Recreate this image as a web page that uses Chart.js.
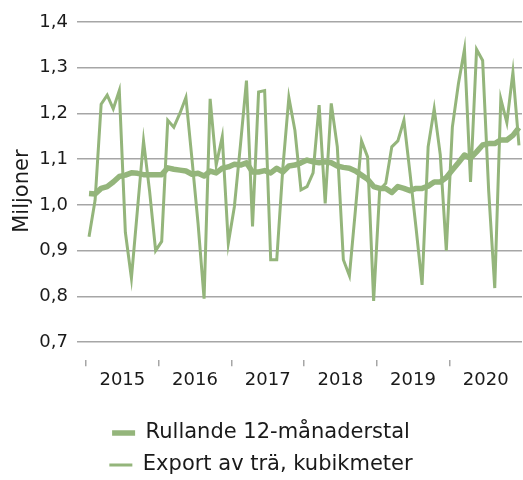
<!DOCTYPE html>
<html lang="sv">
<head>
    <meta charset="UTF-8">
    <title>Export av trä</title>
    <script src="https://cdn.jsdelivr.net/npm/chart.js"></script>
    <style>
        body { margin: 0; background: #fff; }
        #woodChartContainer { width: 523px; height: 480px; }
    </style>
</head>
<body>
    <div id="woodChartContainer">
        <canvas id="woodChart" width="523" height="480"></canvas>
    </div>

    <script>
        // monthly data, jan 2015 - dec 2020
        const years = ['2015', '2016', '2017', '2018', '2019', '2020'];
        const months = ['01', '02', '03', '04', '05', '06', '07', '08', '09', '10', '11', '12'];
        const yTicks = [0.7, 0.8, 0.9, 1.0, 1.1, 1.2, 1.3, 1.4];

        // Rullande 12-månaderstal (miljoner kubikmeter)
        const rolling = [
            1.025, 1.024, 1.036, 1.040, 1.050, 1.062, 1.065, 1.070, 1.069, 1.066, 1.066, 1.066,
            1.066, 1.081, 1.078, 1.076, 1.074, 1.067, 1.069, 1.063, 1.074, 1.070, 1.080, 1.083,
            1.089, 1.087, 1.092, 1.072, 1.072, 1.075, 1.070, 1.080, 1.072, 1.085, 1.087, 1.092,
            1.098, 1.094, 1.092, 1.094, 1.092, 1.085, 1.082, 1.080, 1.074, 1.065, 1.056, 1.040,
            1.036, 1.036, 1.027, 1.040, 1.036, 1.031, 1.036, 1.036, 1.041, 1.050, 1.050, 1.060,
            1.076, 1.092, 1.109, 1.102, 1.116, 1.131, 1.134, 1.134, 1.142, 1.142, 1.152, 1.169
        ];

        // Export av trä, kubikmeter (miljoner)
        const exportWood = [
            0.930, 1.010, 1.220, 1.240, 1.210, 1.250, 0.940, 0.840, 0.990, 1.140, 1.030, 0.900,
            0.920, 1.185, 1.170, 1.200, 1.235, 1.100, 0.960, 0.795, 1.232, 1.087, 1.149, 0.916,
            0.996, 1.130, 1.272, 0.953, 1.247, 1.250, 0.880, 0.880, 1.080, 1.235, 1.163, 1.033,
            1.040, 1.070, 1.218, 1.003, 1.222, 1.127, 0.880, 0.845, 0.990, 1.140, 1.105, 0.790,
            1.033, 1.047, 1.127, 1.140, 1.185, 1.070, 0.950, 0.825, 1.127, 1.210, 1.110, 0.900,
            1.170, 1.265, 1.340, 1.050, 1.340, 1.316, 1.030, 0.818, 1.232, 1.180, 1.290, 1.130
        ];

        const labels = years.flatMap(y => months.map(m => y + '-' + m));
        const green = '#94b57b';
        const gridGray = '#a6a6a6';

        Chart.defaults.font.family = "'DejaVu Sans', sans-serif";
        Chart.defaults.color = '#1a1a1a';

        const ctx = document.getElementById('woodChart').getContext('2d');
        const woodChart = new Chart(ctx, {
            type: 'line',
            data: {
                labels: labels,
                datasets: [{
                    label: 'Rullande 12-månaderstal',
                    data: rolling,
                    borderColor: green,
                    backgroundColor: green,
                    borderWidth: 5.5,
                    pointRadius: 0,
                    borderJoinStyle: 'round'
                }, {
                    label: 'Export av trä, kubikmeter',
                    data: exportWood,
                    borderColor: green,
                    backgroundColor: green,
                    borderWidth: 3,
                    pointRadius: 0
                }]
            },
            options: {
                responsive: false,
                animation: false,
                layout: { padding: { top: 22, right: 1, bottom: -5.5, left: 0 } },
                plugins: {
                    tooltip: { enabled: false },
                    legend: {
                        position: 'bottom',
                        labels: {
                            usePointStyle: true,
                            pointStyle: 'line',
                            pointStyleWidth: 23,
                            padding: 11,
                            font: { size: 21 }
                        }
                    }
                },
                scales: {
                    x: {
                        offset: true,
                        border: { display: false },
                        grid: {
                            offset: true,
                            drawOnChartArea: false,
                            tickLength: 6,
                            lineWidth: 1.5,
                            color: c => (c.index % 12 === 0 ? gridGray : 'rgba(0,0,0,0)')
                        },
                        ticks: {
                            autoSkip: false,
                            maxRotation: 0,
                            padding: 3,
                            labelOffset: -3,
                            font: { size: 18 },
                            callback: (val, i) => (i % 12 === 6 ? years[Math.floor(i / 12)] : '')
                        },
                        afterFit: s => { s.height = 51.2; }
                    },
                    y: {
                        min: 0.66,
                        max: 1.4,
                        border: { display: false },
                        afterBuildTicks: s => { s.ticks = yTicks.map(v => ({ value: v })); },
                        afterFit: s => { s.width = 86; },
                        grid: {
                            color: gridGray,
                            lineWidth: 1.5,
                            tickLength: 9
                        },
                        ticks: {
                            padding: 9,
                            font: { size: 18 },
                            callback: v => v.toFixed(1).replace('.', ',')
                        },
                        title: {
                            display: true,
                            text: 'Miljoner',
                            font: { size: 21 },
                            padding: { top: 10, bottom: 0 }
                        }
                    }
                }
            }
        });
    </script>
</body>
</html>
